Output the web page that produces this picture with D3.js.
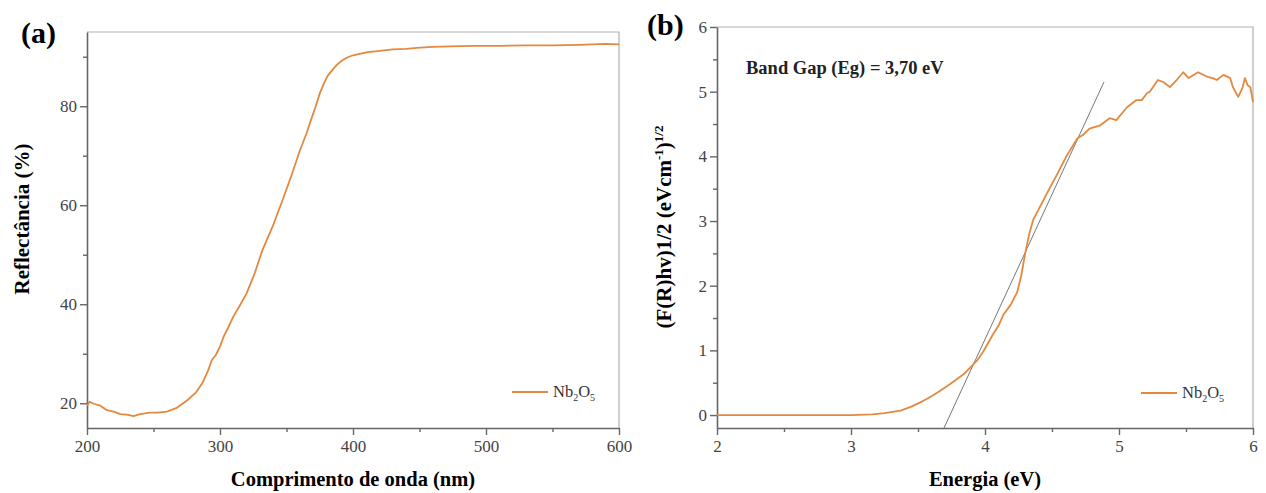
<!DOCTYPE html>
<html>
<head>
<meta charset="utf-8">
<script src="https://cdn.jsdelivr.net/npm/d3@7"></script>
<style>
  body { margin: 0; background: #fff; }
  svg text { font-family: "Liberation Serif", "Times New Roman", serif; }
</style>
</head>
<body>
<svg id="chart" width="1266" height="493"></svg>
<script>
// panel (a): reflectance vs wavelength
var wavelength = [200, 202, 205, 210, 215, 220, 225, 230, 235, 240, 247, 253, 260, 267, 275, 282, 287, 291, 294, 297, 300, 303, 306, 310, 315, 320, 326, 332, 340, 347, 354, 360, 365, 369, 372, 375, 378, 381, 385, 388, 392, 396, 400, 405, 410, 420, 430, 440, 448, 460, 473, 490, 510, 530, 550, 570, 590, 600];
var reflectance = [19.5, 20.3, 19.9, 19.5, 18.6, 18.3, 17.8, 17.7, 17.4, 17.8, 18.1, 18.1, 18.3, 19.0, 20.5, 22.2, 24.2, 26.6, 28.8, 29.8, 31.5, 33.6, 35.2, 37.5, 39.8, 42.2, 46.2, 51.0, 56.0, 61.0, 66.2, 71.0, 74.5, 77.7, 80.0, 82.6, 84.5, 86.2, 87.5, 88.4, 89.3, 89.9, 90.3, 90.6, 90.9, 91.2, 91.5, 91.6, 91.8, 92.0, 92.1, 92.2, 92.2, 92.3, 92.3, 92.4, 92.6, 92.5];

// panel (b): Tauc plot
var energy = [2.0, 2.5, 3.0, 3.16, 3.25, 3.37, 3.45, 3.54, 3.6, 3.66, 3.74, 3.84, 3.94, 3.99, 4.06, 4.1, 4.14, 4.19, 4.24, 4.27, 4.3, 4.33, 4.36, 4.41, 4.46, 4.54, 4.61, 4.69, 4.73, 4.78, 4.86, 4.93, 4.98, 5.06, 5.13, 5.17, 5.21, 5.23, 5.29, 5.33, 5.38, 5.43, 5.48, 5.52, 5.59, 5.66, 5.70, 5.73, 5.78, 5.83, 5.85, 5.89, 5.92, 5.94, 5.96, 5.98, 6.0];
var taucValue = [0.0, 0.0, 0.0, 0.01, 0.03, 0.07, 0.13, 0.22, 0.29, 0.37, 0.48, 0.63, 0.84, 0.99, 1.25, 1.38, 1.56, 1.7, 1.9, 2.15, 2.5, 2.8, 3.02, 3.22, 3.42, 3.73, 4.01, 4.28, 4.33, 4.43, 4.48, 4.59, 4.56, 4.76, 4.87, 4.87, 4.98, 5.0, 5.18, 5.15, 5.07, 5.18, 5.3, 5.21, 5.3, 5.23, 5.21, 5.18, 5.26, 5.21, 5.07, 4.92, 5.05, 5.21, 5.1, 5.07, 4.84];
// tangent used for the band gap
var tangentX = [3.694, 4.888];
var tangentY = [-0.2, 5.15];

var orange = '#e3893f';
var serif = '"Liberation Serif", "Times New Roman", serif';

var svg = d3.select('#chart');

function styleAxis(sel) {
  sel.attr('font-family', serif).attr('font-size', 17);
  sel.select('.domain').attr('stroke', '#666').attr('stroke-width', 1.6);
  sel.selectAll('.tick line').attr('stroke', '#666').attr('stroke-width', 1.4);
  sel.selectAll('.tick text').attr('fill', '#444').style('font-family', serif).style('font-size', '17px');
}

function panel(opt) {
  var x = d3.scaleLinear().domain(opt.xDomain).range([opt.left, opt.right]);
  var y = d3.scaleLinear().domain(opt.yDomain).range([opt.bottom, opt.top]);
  var fmt = d3.format('d');
  var g = svg.append('g');

  // frame: top and right
  g.append('path')
    .attr('d', 'M' + opt.left + ',' + opt.top + 'H' + opt.right + 'V' + opt.bottom)
    .attr('fill', 'none').attr('stroke', '#b0b0b0').attr('stroke-width', 1.2);

  g.append('g')
    .attr('transform', 'translate(0,' + opt.bottom + ')')
    .call(d3.axisBottom(x).tickValues(opt.xTicks).tickFormat(fmt).tickSize(7).tickSizeOuter(0).tickPadding(5))
    .call(styleAxis);
  g.append('g')
    .attr('transform', 'translate(0,' + opt.bottom + ')')
    .call(d3.axisBottom(x).tickValues(opt.xMinor).tickSize(4).tickFormat(''))
    .call(styleAxis)
    .select('.domain').remove();
  g.append('g')
    .attr('transform', 'translate(' + opt.left + ',0)')
    .call(d3.axisLeft(y).tickValues(opt.yTicks).tickFormat(fmt).tickSize(7).tickSizeOuter(0).tickPadding(3))
    .call(styleAxis);
  g.append('g')
    .attr('transform', 'translate(' + opt.left + ',0)')
    .call(d3.axisLeft(y).tickValues(opt.yMinor).tickSize(4).tickFormat(''))
    .call(styleAxis)
    .select('.domain').remove();

  if (opt.extra) opt.extra(g, x, y);

  g.append('path')
    .datum(d3.range(opt.xs.length))
    .attr('fill', 'none')
    .attr('stroke', orange)
    .attr('stroke-width', 1.8)
    .attr('stroke-linejoin', 'round')
    .attr('d', d3.line().x(function(i) { return x(opt.xs[i]); }).y(function(i) { return y(opt.ys[i]); }));

  // legend
  var lg = g.append('g').attr('transform', 'translate(' + opt.legend[0] + ',' + opt.legend[1] + ')');
  lg.append('line').attr('x1', 0).attr('x2', 36).attr('y1', 0).attr('y2', 0)
    .attr('stroke', orange).attr('stroke-width', 2);
  var lt = lg.append('text').attr('x', 41).attr('y', 5).attr('font-size', 16.5).attr('fill', '#333');
  lt.append('tspan').text('Nb');
  lt.append('tspan').attr('font-size', 10).attr('dy', 4).text('2');
  lt.append('tspan').attr('dy', -4).text('O');
  lt.append('tspan').attr('font-size', 10).attr('dy', 4).text('5');

  // axis titles
  g.append('text')
    .attr('x', (opt.left + opt.right) / 2).attr('y', 486)
    .attr('text-anchor', 'middle').attr('font-weight', 'bold').attr('font-size', 20.5)
    .text(opt.xLabel);
  var yl = g.append('text')
    .attr('transform', 'translate(' + opt.yLabelPos[0] + ',' + opt.yLabelPos[1] + ') rotate(-90)')
    .attr('text-anchor', 'middle').attr('font-weight', 'bold').attr('font-size', 21);
  opt.yLabel(yl);

  g.append('text')
    .attr('x', opt.tag[0]).attr('y', opt.tag[1])
    .attr('font-weight', 'bold').attr('font-size', 30)
    .text(opt.tagText);
  return g;
}

panel({
  xDomain: [200, 600], yDomain: [15, 95],
  left: 87, right: 619, top: 32, bottom: 428,
  xTicks: [200, 300, 400, 500, 600], xMinor: [250, 350, 450, 550],
  yTicks: [20, 40, 60, 80], yMinor: [30, 50, 70, 90],
  xs: wavelength, ys: reflectance,
  legend: [512, 392],
  xLabel: 'Comprimento de onda (nm)',
  yLabelPos: [29, 219],
  yLabel: function(t) { t.text('Reflectância (%)'); },
  tag: [21, 43], tagText: '(a)'
});

panel({
  xDomain: [2, 6], yDomain: [-0.2, 6],
  left: 717, right: 1253, top: 27, bottom: 428,
  xTicks: [2, 3, 4, 5, 6], xMinor: [2.5, 3.5, 4.5, 5.5],
  yTicks: [0, 1, 2, 3, 4, 5, 6], yMinor: [0.5, 1.5, 2.5, 3.5, 4.5, 5.5],
  xs: energy, ys: taucValue,
  legend: [1141, 393],
  xLabel: 'Energia (eV)',
  yLabelPos: [671, 227],
  yLabel: function(t) {
    t.append('tspan').text('(F(R)hv)1/2 (eVcm');
    t.append('tspan').attr('font-size', 13).attr('dy', -8).text('-1');
    t.append('tspan').attr('dy', 8).text(')');
    t.append('tspan').attr('font-size', 13).attr('dy', -8).text('1/2');
  },
  tag: [647, 35], tagText: '(b)',
  extra: function(g, x, y) {
    g.append('line')
      .attr('x1', x(tangentX[0])).attr('y1', y(tangentY[0]))
      .attr('x2', x(tangentX[1])).attr('y2', y(tangentY[1]))
      .attr('stroke', '#777').attr('stroke-width', 1);
    g.append('text')
      .attr('x', 746).attr('y', 74)
      .attr('font-weight', 'bold').attr('font-size', 18.5).attr('fill', '#222')
      .text('Band Gap (Eg) = 3,70 eV');
  }
});
</script>
</body>
</html>
